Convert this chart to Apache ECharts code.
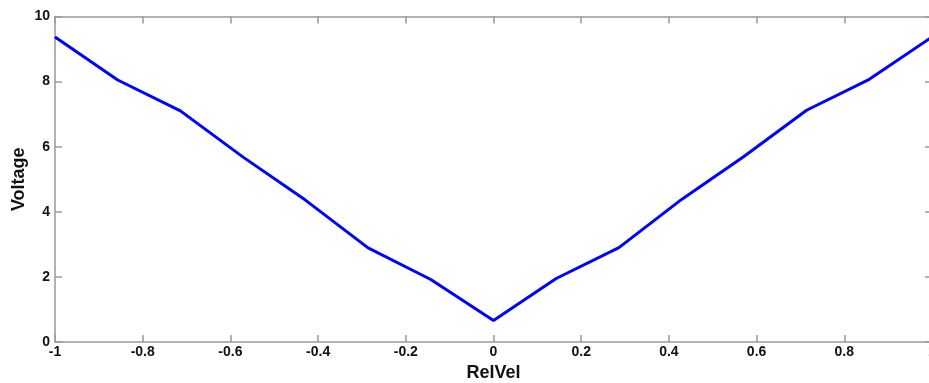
<!DOCTYPE html>
<html>
<head>
<meta charset="utf-8">
<script src="https://cdn.jsdelivr.net/npm/echarts@6/dist/echarts.min.js"></script>
<style>
  html, body { margin: 0; padding: 0; background: #fff; }
  #chart { width: 929px; height: 383px; }
</style>
</head>
<body>
<div id="chart"></div>
<script>
// values
const relVel = [-1, -0.857, -0.714, -0.571, -0.429, -0.286, -0.143, 0,
                0.143, 0.286, 0.429, 0.571, 0.714, 0.857, 1];
const voltage = [9.37, 8.05, 7.1, 5.68, 4.36, 2.89, 1.92, 0.66,
                 1.95, 2.9, 4.38, 5.7, 7.12, 8.07, 9.37];

const xTicks = { min: -1, max: 1, interval: 0.2 };
const yTicks = { min: 0, max: 10, interval: 2 };

const axisColor = "#999";
const labelFont = { color: "#111", fontFamily: "Liberation Sans", fontWeight: "bold", fontSize: 14 };

const fmtX = (v) => {
  const r = Math.round(v * 10) / 10;
  return r === 0 ? "0" : String(r);
};

const chart = echarts.init(document.getElementById("chart"), null, { renderer: "canvas" });

const baseX = {
  type: "value",
  ...xTicks,
  axisLine: { show: true, onZero: false, lineStyle: { color: axisColor, width: 1.5 } },
  axisTick: { show: true, inside: true, length: 7, lineStyle: { color: axisColor, width: 1.5 } },
  splitLine: { show: false },
};
const baseY = {
  type: "value",
  ...yTicks,
  axisLine: { show: true, onZero: false, lineStyle: { color: axisColor, width: 1.5 } },
  axisTick: { show: true, inside: true, length: 7, lineStyle: { color: axisColor, width: 1.5 } },
  splitLine: { show: false },
};

chart.setOption({
  animation: false,
  backgroundColor: "#fff",
  grid: {
    left: 55, right: -3, top: 16.5, bottom: 41,
    containLabel: false, outerBoundsMode: "none",
  },
  xAxis: [
    {
      ...baseX,
      position: "bottom",
      name: "RelVel",
      nameLocation: "middle",
      nameGap: 22,
      nameMoveOverlap: false,
      nameTextStyle: { ...labelFont, fontSize: 18 },
      axisLabel: { ...labelFont, margin: 3, formatter: fmtX },
    },
    { ...baseX, position: "top", axisLabel: { show: false } },
  ],
  yAxis: [
    {
      ...baseY,
      position: "left",
      name: "Voltage",
      nameLocation: "middle",
      nameGap: 27,
      nameMoveOverlap: false,
      nameTextStyle: { ...labelFont, fontSize: 18 },
      axisLabel: { ...labelFont, margin: 5 },
    },
    { ...baseY, position: "right", axisLabel: { show: false } },
  ],
  series: [
    {
      type: "line",
      xAxisIndex: 0,
      yAxisIndex: 0,
      data: relVel.map((x, i) => [x, voltage[i]]),
      showSymbol: false,
      lineStyle: { color: "#0000ff", width: 3 },
    },
  ],
});
</script>
</body>
</html>
